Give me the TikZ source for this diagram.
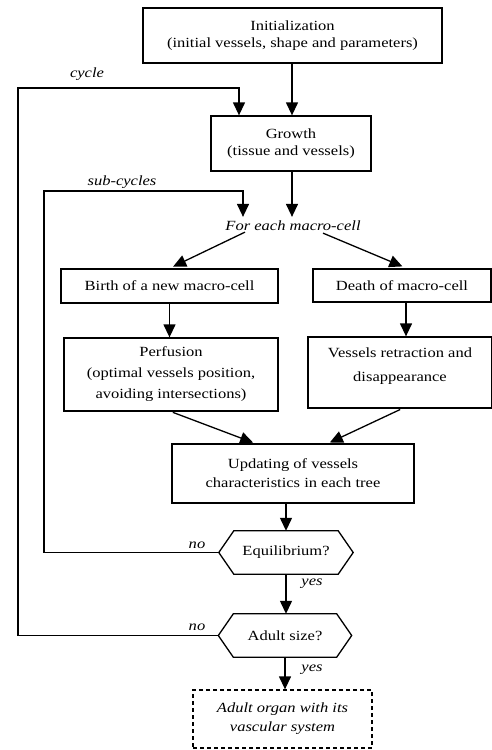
\documentclass[tikz,border=0pt]{standalone}
\usepackage{fontspec}
\setmainfont[FakeStretch=1.18]{Liberation Serif}
\usetikzlibrary{arrows.meta}
\begin{document}
\begin{tikzpicture}[x=1pt,y=-1pt,
  box/.style={draw, line width=1.3pt, align=center, inner sep=0pt, font=\fontsize{14}{17}\selectfont},
  lbl/.style={font=\fontsize{14}{17}\selectfont\itshape, inner sep=1pt},
  arr/.style={line width=1.3pt, -{Triangle[length=13pt,width=12pt]}},
  ln/.style={line width=1.3pt}]
\useasboundingbox (0,0) rectangle (492,750);
% boxes
\node[box, minimum width=299pt, minimum height=55pt, font=\fontsize{14}{16.5}\selectfont] (init) at (292.5,35.5) {Initialization\\(initial vessels, shape and parameters)};
\node[box, minimum width=160pt, minimum height=55pt] (growth) at (291,143.5) {Growth\\(tissue and vessels)};
\node[lbl, inner sep=4pt] (each) at (293,226) {For each macro-cell};
\node[box, minimum width=217pt, minimum height=34pt] (birth) at (169.5,286) {Birth of a new macro-cell};
\node[box, minimum width=178pt, minimum height=33pt] (death) at (402,285.5) {Death of macro-cell};
\node[box, minimum width=214pt, minimum height=73pt, font=\fontsize{14}{21}\selectfont] (perf) at (171,374.5) {Perfusion\\(optimal vessels position,\\avoiding intersections)};
\node[box, minimum width=184pt, minimum height=71pt] (vess) at (400,372.5) {};
\node[align=center, inner sep=0pt, font=\fontsize{14}{24}\selectfont] (vesstext) at (400,366) {Vessels retraction and\\disappearance};
\node[box, minimum width=242pt, minimum height=59pt, font=\fontsize{14}{19}\selectfont] (upd) at (293,473.5) {Updating of vessels\\characteristics in each tree};
% decisions (hexagons)
\node[inner sep=0pt, minimum width=134pt, minimum height=43pt, font=\fontsize{14}{17}\selectfont] (eq) at (286,552.5) {Equilibrium?};
\draw[ln] ([xshift=15pt]eq.north west) -- ([xshift=-15pt]eq.north east) -- (eq.east) -- ([xshift=-15pt]eq.south east) -- ([xshift=15pt]eq.south west) -- (eq.west) -- cycle;
\node[inner sep=0pt, minimum width=133pt, minimum height=43pt, font=\fontsize{14}{17}\selectfont] (adult) at (285,635.5) {Adult size?};
\draw[ln] ([xshift=15pt]adult.north west) -- ([xshift=-15pt]adult.north east) -- (adult.east) -- ([xshift=-15pt]adult.south east) -- ([xshift=15pt]adult.south west) -- (adult.west) -- cycle;
\node[box, dash pattern=on 4pt off 3pt, minimum width=179pt, minimum height=58pt, font=\fontsize{14}{19}\selectfont\itshape] (final) at (282.5,719) {Adult organ with its\\vascular system};
% labels
\node[lbl] (lcycle) at (87,74) {cycle};
\node[lbl] (lsub) at (122,182) {sub-cycles};
\node[lbl] (lno1) at (197,545) {no};
\node[lbl] (lno2) at (197,627) {no};
\node[lbl] (lyes1) at (312,584) {yes};
\node[lbl] (lyes2) at (312,670) {yes};
% loop coordinates
\coordinate (cycL) at (18,88);
\coordinate (cycR) at (239,88);
\coordinate (subL) at (44,191);
\coordinate (subR) at (243,191);
% connectors
\draw[arr] (init.south -| 292,0) -- (growth.north -| 292,0);
\draw[arr] (adult.west) -| (cycL) -- (cycR) -- (cycR |- growth.north);
\draw[arr] (growth.south -| 292,0) -- (each.north -| 292,0);
\draw[arr] (eq.west) -| (subL) -- (subR) -- (subR |- each.north);
\draw[arr, shorten >=4pt] ([xshift=-48pt,yshift=3pt]each.south) -- (birth.north);
\draw[arr, shorten >=5pt] ([xshift=30pt,yshift=2pt]each.south) -- ([xshift=5pt]death.north);
\draw[arr] (birth.south) -- (birth.south |- perf.north);
\draw[arr] ([xshift=4pt]death.south) -- ([xshift=4pt]death.south |- vess.north);
\draw[arr, shorten <=2pt, shorten >=2pt] (perf.south) -- ([xshift=-38pt]upd.north);
\draw[arr, shorten <=2pt, shorten >=2pt] ([xshift=2pt]vess.south) -- ([xshift=35pt]upd.north);
\draw[arr] (upd.south -| eq.north) -- (eq.north);
\draw[arr] (eq.south) -- (eq.south |- adult.north);
\draw[arr] (adult.south) -- (adult.south |- final.north);
\end{tikzpicture}
\end{document}
